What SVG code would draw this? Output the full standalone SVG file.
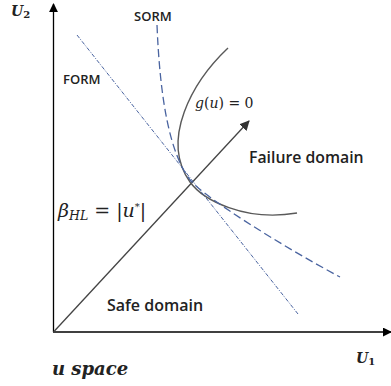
<svg xmlns="http://www.w3.org/2000/svg" width="391" height="386" viewBox="0 0 391 386">
<style>
.sans{font-family:"Open Sans","Liberation Sans",sans-serif;font-weight:600;fill:#222}
.math{font-family:"DejaVu Serif","Liberation Serif",serif;font-style:italic;fill:#222}
.axis{stroke:#000;stroke-width:1.3;fill:none}
.blue{stroke:#4a64a0;fill:none}
</style>
<defs>
<marker id="ah" viewBox="0 0 10 10" refX="9" refY="5" markerWidth="9" markerHeight="9" markerUnits="userSpaceOnUse" orient="auto"><path d="M0,0 L10,5 L0,10 Z" fill="#000"/></marker>
<marker id="ah2" viewBox="0 0 10 10" refX="9" refY="5" markerWidth="10" markerHeight="10" markerUnits="userSpaceOnUse" orient="auto"><path d="M0,0 L10,5 L0,10 Z" fill="#333"/></marker>
</defs>
<g id="connectors">
<line class="axis" x1="53.5" y1="332" x2="53.5" y2="4" marker-end="url(#ah)"/>
<line class="axis" x1="53" y1="332" x2="391" y2="332" marker-end="url(#ah)"/>
<line x1="53.5" y1="332" x2="249" y2="121" stroke="#444" stroke-width="1.3" marker-end="url(#ah2)"/>
<path id="g-curve" d="M228,48 C192,82 160,140 190,182 C203,200 245,222 297,213" fill="none" stroke="#595959" stroke-width="1.4"/>
<path id="form" class="blue" d="M77,35 L298,314" stroke-width="1" stroke-dasharray="4 1.5 1 1.5"/>
<path id="sorm" class="blue" d="M157,25 C160,100 170,155 191,181 C203,196 280,245 340,277" stroke-width="1.3" stroke-dasharray="8 4"/>
</g>
<g id="labels">
<text class="math" x="11" y="16" font-size="14" font-weight="bold">U<tspan font-size="10" dy="2" font-style="normal">2</tspan></text>
<text class="math" x="356" y="363" font-size="14" font-weight="bold">U<tspan font-size="10" dy="2" font-style="normal">1</tspan></text>
<text class="math" x="52" y="375" font-size="18" font-weight="bold">u space</text>
<text class="sans" x="134" y="21" font-size="13">SORM</text>
<text class="sans" x="63" y="84" font-size="13">FORM</text>
<text class="math" x="195" y="108" font-size="14">g<tspan font-style="normal">(</tspan>u<tspan font-style="normal">) = 0</tspan></text>
<text class="sans" x="249" y="163" font-size="15.8">Failure domain</text>
<text class="sans" x="107" y="311" font-size="16">Safe domain</text>
<text class="math" x="58" y="217" font-size="19">β<tspan font-size="12.5" dy="3">HL</tspan><tspan dy="-3" font-style="normal"> = |</tspan>u<tspan font-size="10" dy="-7" font-style="normal">*</tspan><tspan dy="7" font-style="normal">|</tspan></text>
</g>
</svg>
